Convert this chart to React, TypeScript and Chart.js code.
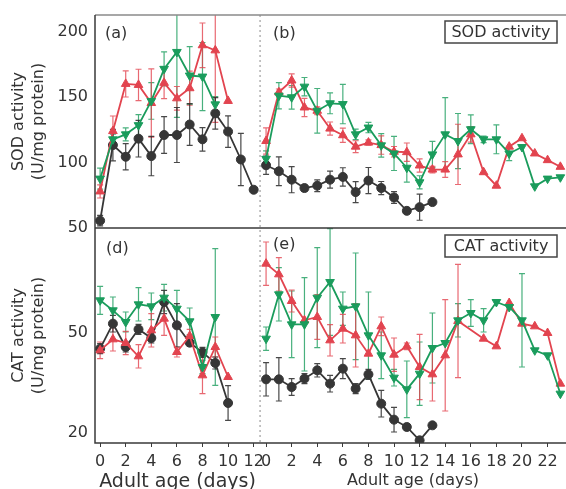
import React, { useEffect, useRef } from 'react';
import { Chart, registerables } from 'chart.js';

Chart.register(...registerables);

// ---------- data ----------
// left panels: adult age 0..12 days; right panels: adult age 0..23 days
const daysLeft = [0, 1, 2, 3, 4, 5, 6, 7, 8, 9, 10, 11, 12];
const daysRight = [0, 1, 2, 3, 4, 5, 6, 7, 8, 9, 10, 11, 12, 13, 14, 15, 16, 17, 18, 19, 20, 21, 22, 23];

const xTicksLeft = [0, 2, 4, 6, 8, 10, 12];
const xTicksRight = [0, 2, 4, 6, 8, 10, 12, 14, 16, 18, 20, 22];
const yTicksSOD = [50, 100, 150, 200];
const yTicksCAT = [20, 50];

// (a) SOD, left
const aBlack = [55.6, 113.3, 104.4, 118.2, 104.9, 121, 121, 129, 117.7, 137.5, 123.6, 102.3, 79.2];
const aBlackErr = [4, 12, 10, 14, 15, 14, 21, 16, 9, 12, 12, 20, 0];
const aRed = [77.9, 124, 160, 159.2, 145.4, 160.8, 149, 156.7, 189.5, 185.6, 147];
const aRedErr = [5, 11.5, 10, 12, 26, 12, 9, 13, 17, 55, 0];
const aGreen = [87.7, 117.7, 121.5, 128.5, 147, 171.5, 184.4, 166.4, 165.6, 144.4];
const aGreenErr = [8, 4, 5, 8, 14, 13, 50, 22, 26, 6];

// (b) SOD, right
const bBlack = [97.9, 93.3, 86.9, 80.5, 82.3, 86.9, 89, 77.4, 86.2, 80.5, 73.3, 63.1, 65.9, 69.8];
const bBlackErr = [7, 11, 10, 2.5, 4.5, 6.5, 7, 8, 10, 5, 4.5, 2, 10, 0];
const bRed = [116.4, 153.6, 162.6, 142, 139.5, 125.9, 120.8, 112.1, 115.2, 113.3, 108.2, 107.9, 97.7, 94.6, 94.6, 106.2, 121.5, 92.6, 82.3, 112.1, 118.5, 106.9, 101.8, 96.7];
const bRedErr = [10, 2.5, 5, 7, 3, 5, 5.5, 4.5, 2, 7, 4, 7, 5, 2.5, 6, 23, 6, 0, 0, 0, 0, 0, 0, 0];
const bGreen = [102.8, 151, 149.8, 157.9, 139.5, 145.2, 144.6, 121.5, 126.7, 113.1, 106.9, 96, 84.9, 106.2, 121.5, 116.4, 125.4, 117.7, 117.7, 106.9, 111.8, 81.8, 87.7, 88.7];
const bGreenErr = [6, 10, 9, 7, 17, 8, 15, 4, 4, 9, 13, 11, 5, 10, 28, 21, 11, 2.5, 11, 5.5, 0, 0, 0, 0];

// (d) CAT, left
const dBlack = [45.4, 52.9, 45.9, 51.2, 48.6, 59.4, 52.4, 47.2, 44.3, 41.1, 29.1];
const dBlackErr = [1.5, 2.5, 1.5, 1.5, 1.5, 3.5, 6.5, 1, 1.5, 1.8, 5.2];
const dRed = [44.9, 48.2, 47.1, 43.1, 50.9, 54.4, 44.4, 49.2, 37.4, 45.9, 36.9];
const dRedErr = [2.5, 3.5, 3.5, 3.5, 5, 5, 1.5, 2, 5.5, 3, 0];
const dGreen = [59.9, 56.9, 53.4, 58.7, 58.1, 60.7, 57.4, 53.6, 39.9, 54.9];
const dGreenErr = [4.2, 4, 3, 5, 4, 4, 5.5, 4, 2, 20.5];

// (e) CAT, right
const eBlack = [36.2, 36.2, 33.9, 36.4, 38.9, 34.9, 39.4, 33.4, 37.7, 28.9, 24.1, 21.9, 17.9, 22.4];
const eBlackErr = [5, 6.5, 2.5, 1.5, 2, 2.5, 3, 1.5, 1.5, 4, 3.7, 1, 1, 0];
const eRed = [70.9, 67.7, 59.7, 53.9, 54.9, 47.9, 51.4, 49.4, 43.9, 52.1, 43.6, 46.1, 39.9, 37.7, 43.4, 53.7, null, 48.4, 46.1, 59.1, 52.9, 52.1, 50.1, 34.9];
const eRedErr = [6.5, 5, 3.3, 0, 6.7, 4.7, 4.3, 9.5, 0, 2.8, 5, 1, 9.8, 8, 16.7, 17, 0, 0, 0, 0, 0, 0, 0, 0];
const eGreen = [48.4, 61.7, 52.7, 52.7, 60.7, 65.4, 57.4, 58.1, 49.4, 43.4, 36.7, 33.2, 37.9, 45.6, 47.1, 53.9, 56.1, 53.9, 59.4, 57.9, 53.9, 44.9, 43.4, 31.9];
const eGreenErr = [3.5, 8, 10, 14, 15, 16, 5, 16, 13, 7, 2.5, 8.5, 9.5, 10.5, 0, 5, 4, 3.5, 0, 0, 14, 0, 0, 0];

// ---------- styles ----------
const FONT = '"DejaVu Sans", "Liberation Sans", sans-serif';
const TEXT = '#333333';
const COL = {
  black: { line: '#363636', err: 'rgba(40,40,40,0.85)', style: 'circle', rot: 0, r: 4.5 },
  red: { line: '#e2444f', err: 'rgba(226,68,79,0.8)', style: 'triangle', rot: 0, r: 5 },
  green: { line: '#1a9c5c', err: 'rgba(26,156,92,0.8)', style: 'triangle', rot: 180, r: 5 },
};

type Key = keyof typeof COL;

function makeSet(label: string, days: number[], vals: (number | null)[], errs: number[], key: Key, xAxisID: string, yAxisID: string) {
  const c = COL[key];
  return {
    label,
    data: vals.map((v, i) => ({ x: days[i], y: v })),
    errors: errs,
    errColor: c.err,
    xAxisID,
    yAxisID,
    borderColor: c.line,
    backgroundColor: c.line,
    borderWidth: 1.8,
    pointStyle: c.style,
    pointRotation: c.rot,
    pointRadius: c.r,
    pointBorderWidth: 1,
    pointBackgroundColor: c.line,
    pointBorderColor: c.line,
    spanGaps: true,
    tension: 0,
    fill: false,
  };
}

const errorBarPlugin = {
  id: 'errorBars',
  beforeDatasetsDraw(chart: any) {
    const ctx = chart.ctx;
    chart.data.datasets.forEach((ds: any) => {
      const xs = chart.scales[ds.xAxisID];
      const ys = chart.scales[ds.yAxisID];
      ctx.save();
      ctx.beginPath();
      ctx.rect(xs.left, ys.top, xs.right - xs.left, ys.bottom - ys.top);
      ctx.clip();
      ctx.strokeStyle = ds.errColor;
      ctx.lineWidth = 1.2;
      ds.data.forEach((p: any, j: number) => {
        const e = ds.errors[j];
        if (p.y == null || !e) return;
        const x = xs.getPixelForValue(p.x);
        const y1 = ys.getPixelForValue(p.y - e);
        const y2 = ys.getPixelForValue(p.y + e);
        ctx.beginPath();
        ctx.moveTo(x, y1);
        ctx.lineTo(x, y2);
        ctx.moveTo(x - 3, y1);
        ctx.lineTo(x + 3, y1);
        ctx.moveTo(x - 3, y2);
        ctx.lineTo(x + 3, y2);
        ctx.stroke();
      });
      ctx.restore();
    });
  },
};

const framePlugin = {
  id: 'frame',
  afterDatasetsDraw(chart: any) {
    const ctx = chart.ctx;
    const { left, right, top, bottom } = chart.chartArea;
    const yTop = chart.scales.yTop;
    const yBot = chart.scales.yBot;
    const xL = chart.scales.xL;
    const xR = chart.scales.xR;
    ctx.save();
    // top border
    ctx.strokeStyle = '#8a8a8a';
    ctx.lineWidth = 1.5;
    ctx.beginPath();
    ctx.moveTo(left, top);
    ctx.lineTo(right, top);
    ctx.stroke();
    // left, bottom, divider
    ctx.strokeStyle = '#3a3a3a';
    ctx.beginPath();
    ctx.moveTo(left, top);
    ctx.lineTo(left, bottom);
    ctx.lineTo(right, bottom);
    ctx.moveTo(left, yTop.bottom);
    ctx.lineTo(right, yTop.bottom);
    ctx.stroke();
    // dashed separator
    ctx.strokeStyle = '#8a8a8a';
    ctx.lineWidth = 1;
    ctx.setLineDash([2, 3]);
    ctx.beginPath();
    ctx.moveTo(xL.right, top);
    ctx.lineTo(xL.right, bottom);
    ctx.stroke();
    ctx.setLineDash([]);

    // panel labels
    ctx.fillStyle = TEXT;
    ctx.font = '16px ' + FONT;
    ctx.textBaseline = 'middle';
    ctx.textAlign = 'left';
    ctx.fillText('(a)', xL.left + 10, yTop.top + 19);
    ctx.fillText('(b)', xR.left + 13, yTop.top + 19);
    ctx.fillText('(d)', xL.left + 11, yBot.top + 21);
    ctx.fillText('(e)', xR.left + 13, yBot.top + 17);

    // boxed titles
    const box = (txt: string, y0: number) => {
      const w = 112, h = 22;
      const x0 = right - 9 - w;
      ctx.strokeStyle = '#444';
      ctx.lineWidth = 1.5;
      ctx.strokeRect(x0, y0, w, h);
      ctx.textAlign = 'center';
      ctx.fillText(txt, x0 + w / 2, y0 + h / 2 + 1);
    };
    box('SOD activity', yTop.top + 6);
    box('CAT activity', yBot.top + 7);
    ctx.restore();
  },
};

function fixTicks(values: number[]) {
  return (scale: any) => {
    scale.ticks = values.map((v) => ({ value: v }));
  };
}

export default function App() {
  const ref = useRef<HTMLCanvasElement | null>(null);

  useEffect(() => {
    if (!ref.current) return;
    const datasets = [
      makeSet('a-green', daysLeft, aGreen, aGreenErr, 'green', 'xL', 'yTop'),
      makeSet('a-red', daysLeft, aRed, aRedErr, 'red', 'xL', 'yTop'),
      makeSet('a-black', daysLeft, aBlack, aBlackErr, 'black', 'xL', 'yTop'),
      makeSet('b-green', daysRight, bGreen, bGreenErr, 'green', 'xR', 'yTop'),
      makeSet('b-red', daysRight, bRed, bRedErr, 'red', 'xR', 'yTop'),
      makeSet('b-black', daysRight, bBlack, bBlackErr, 'black', 'xR', 'yTop'),
      makeSet('d-green', daysLeft, dGreen, dGreenErr, 'green', 'xL', 'yBot'),
      makeSet('d-red', daysLeft, dRed, dRedErr, 'red', 'xL', 'yBot'),
      makeSet('d-black', daysLeft, dBlack, dBlackErr, 'black', 'xL', 'yBot'),
      makeSet('e-green', daysRight, eGreen, eGreenErr, 'green', 'xR', 'yBot'),
      makeSet('e-red', daysRight, eRed, eRedErr, 'red', 'xR', 'yBot'),
      makeSet('e-black', daysRight, eBlack, eBlackErr, 'black', 'xR', 'yBot'),
    ];

    const tickFont = { family: FONT, size: 16 };
    const xCommon = {
      type: 'linear',
      axis: 'x',
      position: 'bottom',
      stack: 'h',
      border: { display: false },
      grid: { display: true, drawOnChartArea: false, drawTicks: true, tickLength: 4, color: '#3a3a3a', lineWidth: 1 },
      ticks: { autoSkip: false, maxRotation: 0, font: tickFont, color: TEXT, padding: 5 },
      afterFit: (s: any) => { s.height = 46; s.paddingLeft = 0; s.paddingRight = 0; },
    };
    const yCommon = {
      type: 'linear',
      axis: 'y',
      position: 'left',
      stack: 'v',
      border: { display: false },
      grid: { display: false, drawTicks: false },
      ticks: { font: tickFont, color: TEXT, padding: 7 },
      afterFit: (s: any) => { s.width = 95; s.paddingTop = 0; s.paddingBottom = 0; },
    };

    const chart = new Chart(ref.current, {
      type: 'line',
      data: { datasets } as any,
      plugins: [errorBarPlugin, framePlugin],
      options: {
        animation: false,
        responsive: true,
        maintainAspectRatio: false,
        layout: { autoPadding: false, padding: { top: 15, right: 0, bottom: 0, left: 0 } },
        plugins: { legend: { display: false }, tooltip: { enabled: false } },
        scales: {
          xL: {
            ...xCommon,
            weight: 0,
            stackWeight: 12.9,
            min: -0.4,
            max: 12.5,
            afterBuildTicks: fixTicks(xTicksLeft),
            title: { display: true, text: 'Adult age (days)', color: TEXT, font: { family: FONT, size: 19, lineHeight: 0.75 }, padding: 0 },
          },
          xR: {
            ...xCommon,
            weight: 1,
            stackWeight: 23.91,
            min: -0.47,
            max: 23.44,
            afterBuildTicks: fixTicks(xTicksRight),
            title: { display: true, text: 'Adult age (days)', color: TEXT, font: { family: FONT, size: 16, lineHeight: 1 }, padding: 0 },
          },
          yBot: {
            ...yCommon,
            weight: 0,
            stackWeight: 215,
            min: 17.1,
            max: 81.6,
            afterBuildTicks: fixTicks(yTicksCAT),
            title: { display: true, text: ['CAT activity', '(U/mg protein)'], color: TEXT, font: { family: FONT, size: 16, lineHeight: 1.25 }, padding: { top: 9, bottom: 0 } },
          },
          yTop: {
            ...yCommon,
            weight: 1,
            stackWeight: 213,
            min: 50,
            max: 212.6,
            afterBuildTicks: fixTicks(yTicksSOD),
            title: { display: true, text: ['SOD activity', '(U/mg protein)'], color: TEXT, font: { family: FONT, size: 16, lineHeight: 1.25 }, padding: { top: 9, bottom: 0 } },
          },
        } as any,
      },
    });
    return () => chart.destroy();
  }, []);

  return (
    <div style={{ position: 'fixed', left: 0, top: 0, width: 566, height: 489, background: '#fff' }}>
      <canvas ref={ref} />
    </div>
  );
}
